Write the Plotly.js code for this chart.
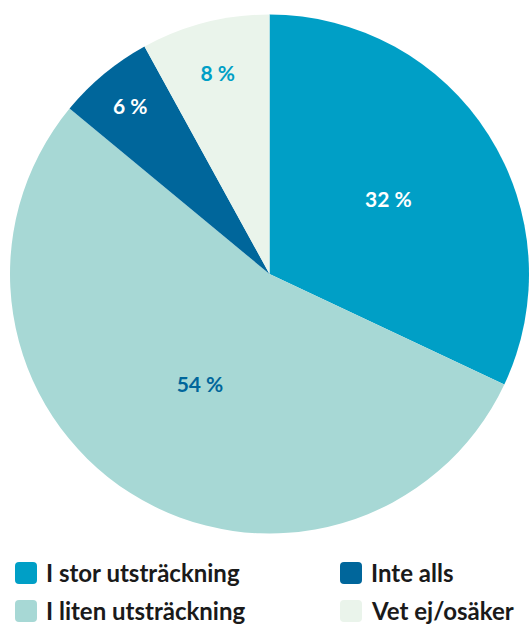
<!DOCTYPE html>
<html><head><meta charset="utf-8">
<script src="https://cdn.plot.ly/plotly-3.0.1.min.js"></script>
<style>html,body{margin:0;padding:0;background:#fff}#chart{width:529px;height:626px}</style>
</head><body><div id="chart"></div>
<script>
const labels = ["I stor utsträckning", "I liten utsträckning", "Inte alls", "Vet ej/osäker"];
const values = [32, 54, 6, 8];
const colors = ["#009fc6", "#a7d8d5", "#00669b", "#eaf4eb"];
const textColors = ["#ffffff", "#00669b", "#ffffff", "#009fc6"];
// legend layout: column-major order (as in the reference)
const legendOrder = [0, 1, 2, 3];

const W = 529, H = 626;
const px = x => x / W, py = y => 1 - y / H;

const shapes = [], annotations = [];
const colX = [15, 340], rowY = [573, 611], box = 22, rr = 4;
legendOrder.forEach((idx, k) => {
  const col = Math.floor(k / 2), row = k % 2;
  const x0 = colX[col], y0 = rowY[row] - box / 2, x1 = x0 + box, y1 = y0 + box;
  const p = `M ${px(x0+rr)} ${py(y0)} L ${px(x1-rr)} ${py(y0)} Q ${px(x1)} ${py(y0)} ${px(x1)} ${py(y0+rr)} L ${px(x1)} ${py(y1-rr)} Q ${px(x1)} ${py(y1)} ${px(x1-rr)} ${py(y1)} L ${px(x0+rr)} ${py(y1)} Q ${px(x0)} ${py(y1)} ${px(x0)} ${py(y1-rr)} L ${px(x0)} ${py(y0+rr)} Q ${px(x0)} ${py(y0)} ${px(x0+rr)} ${py(y0)} Z`;
  shapes.push({type: "path", xref: "paper", yref: "paper", path: p, fillcolor: colors[idx], line: {width: 0}});
  annotations.push({xref: "paper", yref: "paper", x: px(x1 + 7), y: py(rowY[row] - 1), xanchor: "left", yanchor: "middle",
    text: labels[idx], showarrow: false, font: {family: "Lato", size: 24, color: "#1a1a1a", weight: 700}});
});

const data = [{
  type: "pie",
  labels: labels,
  values: values,
  sort: false,
  direction: "clockwise",
  rotation: 0,
  marker: {colors: colors, line: {width: 0}},
  texttemplate: "<b>%{value} %</b>",
  textposition: "inside",
  insidetextorientation: "horizontal",
  textfont: {family: "Lato", size: 21, color: textColors, weight: 900},
  hoverinfo: "none",
  showlegend: false,
  domain: {x: [10 / W, 1], y: [1 - 534 / H, 1 - 14 / H]}
}];

const layout = {
  width: W, height: H,
  margin: {l: 0, r: 0, t: 0, b: 0},
  paper_bgcolor: "#ffffff",
  showlegend: false,
  shapes: shapes,
  annotations: annotations
};
Plotly.newPlot("chart", data, layout, {displayModeBar: false, staticPlot: true});
</script></body></html>
